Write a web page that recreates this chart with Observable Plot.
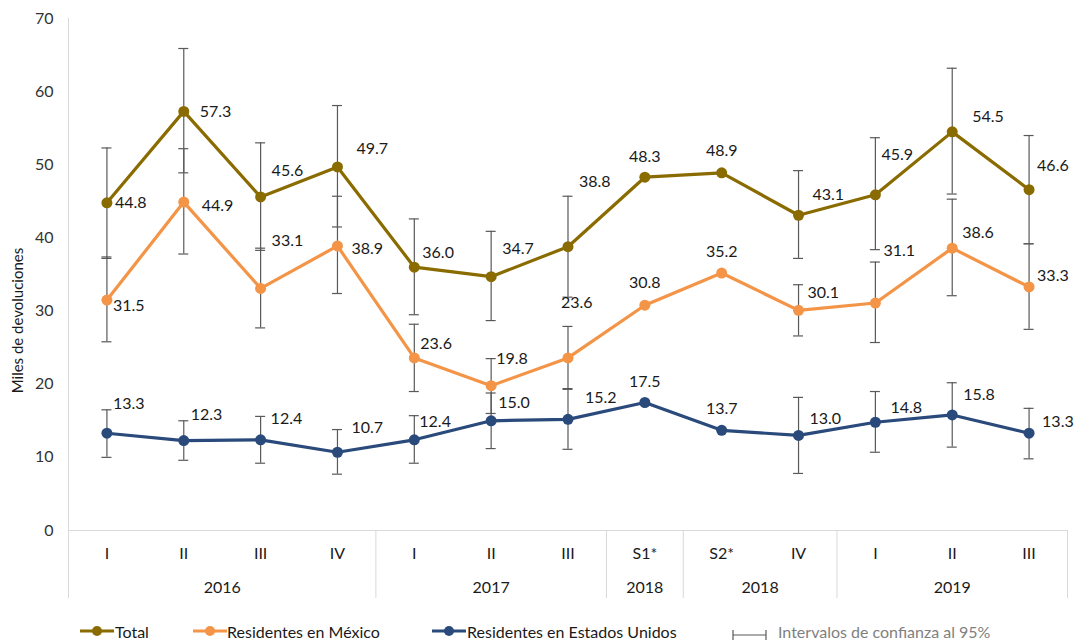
<!DOCTYPE html>
<html><head><meta charset="utf-8">
<script src="https://cdn.jsdelivr.net/npm/d3@7"></script>
<script src="https://cdn.jsdelivr.net/npm/@observablehq/plot@0.6"></script>
<style>
body{margin:0;background:#fff;font-family:Lato,"Open Sans",sans-serif;}
#wrap{position:relative;width:1075px;height:640px;overflow:hidden;}
#legend{position:absolute;left:0;top:620px;width:1075px;height:22px;font-size:16px;color:#1a1a1a;}
.item{position:absolute;top:0;height:22px;display:flex;align-items:center;white-space:nowrap;}
.sw{position:absolute;top:0;}
</style></head>
<body><div id="wrap"><div id="chart"></div><div id="legend"></div></div>
<script>
// ---- data ----
const quarters = ["I","II","III","IV","I","II","III","S1*","S2*","IV","I","II","III"];
const yearLabels = ["2016","2017","2018","2018","2019"];
const yearSpans = [4,3,1,2,3];
const yTicks = [0,10,20,30,40,50,60,70];

const total  = [44.8,57.3,45.6,49.7,36.0,34.7,38.8,48.3,48.9,43.1,45.9,54.5,46.6];
const mexico = [31.5,44.9,33.1,38.9,23.6,19.8,23.6,30.8,35.2,30.1,31.1,38.6,33.3];
const us     = [13.3,12.3,12.4,10.7,12.4,15.0,15.2,17.5,13.7,13.0,14.8,15.8,13.3];

const totalLow   = [37.2,48.9,38.3,41.5,29.5,28.7,31.9,null,null,37.2,38.4,46.0,39.2];
const totalHigh  = [52.3,65.9,53.0,58.1,42.6,40.9,45.7,null,null,49.2,53.7,63.2,54.0];
const mexicoLow  = [25.8,37.8,27.7,32.4,19.0,16.0,19.4,null,null,26.6,25.7,32.1,27.5];
const mexicoHigh = [37.4,52.2,38.6,45.7,28.2,23.5,27.9,null,null,33.6,36.7,45.3,39.2];
const usLow      = [10.0,9.6,9.2,7.7,9.2,11.2,11.1,null,null,7.8,10.7,11.4,9.8];
const usHigh     = [16.5,15.0,15.6,13.8,15.7,18.8,19.3,null,null,18.2,19.0,20.2,16.7];

const seriesNames = ["Total","Residentes en México","Residentes en Estados Unidos"];
const ciLabel = "Intervalos de confianza al 95%";
const yTitle = "Miles de devoluciones";

// ---- styling / label placement (pixel offsets from each point) ----
const colors = ["#8a6b00","#f39447","#2a4a7b"];
const labelOffsets = [
  [[8,0],[16,0],[11,-26],[19,-18],[8,-14],[11,-28],[11,-65],[0,-20,"m"],[0,-22,"m"],[14,-20],[6,-40],[20,-15],[8,-24]],
  [[6,6],[18,4],[11,-48],[14,3],[6,-14],[5,-27],[-7,-55],[0,-22,"m"],[0,-21,"m"],[9,-17],[8,-52],[10,-15],[8,-11]],
  [[6,-29],[7,-26],[10,-21],[14,-24],[5,-18],[7,-18],[17,-21],[0,-21,"m"],[0,-21,"m"],[11,-17],[15,-14],[11,-20],[13,-11]]
];
const FS = 16;

const rows = quarters.map((q,i)=>({i, x:i+0.5, q, base:0,
  v:[total[i],mexico[i],us[i]],
  lo:[totalLow[i],mexicoLow[i],usLow[i]],
  hi:[totalHigh[i],mexicoHigh[i],usHigh[i]]}));

let acc = 0;
const yearRows = yearLabels.map((label,k)=>{const s=acc; acc+=yearSpans[k]; return {label, center:(s+acc)/2, end:acc};});
const bounds = [{b:0,base:0}, ...yearRows.map(d=>({b:d.end, base:0}))];

const marks = [];
const gridColor = "#d9d9d9";
marks.push(Plot.ruleY([0], {stroke:gridColor, strokeWidth:1}));
marks.push(Plot.ruleX([0], {stroke:gridColor, strokeWidth:1}));
marks.push(Plot.ruleX(bounds, {x:"b", y1:"base", y2:"base", insetBottom:-68, stroke:gridColor, strokeWidth:1}));

// error bars
for (let s=0;s<3;s++){
  const d = rows.filter(r=>r.lo[s]!=null);
  const ebar = {stroke:"#595959", strokeWidth:1.2};
  marks.push(Plot.ruleX(d, {x:"x", y1:r=>r.lo[s], y2:r=>r.hi[s], ...ebar}));
  marks.push(Plot.ruleY(d, {y:r=>r.lo[s], x1:"x", x2:"x", insetLeft:-5, insetRight:-5, ...ebar}));
  marks.push(Plot.ruleY(d, {y:r=>r.hi[s], x1:"x", x2:"x", insetLeft:-5, insetRight:-5, ...ebar}));
}
// lines & dots
for (let s=0;s<3;s++){
  marks.push(Plot.line(rows, {x:"x", y:r=>r.v[s], stroke:colors[s], strokeWidth:3.2}));
  marks.push(Plot.dot(rows, {x:"x", y:r=>r.v[s], r:5.5, fill:colors[s], stroke:"none"}));
}
// data labels
for (let s=0;s<3;s++){
  rows.forEach((r,i)=>{
    const o = labelOffsets[s][i];
    marks.push(Plot.text([r], {x:"x", y:d=>d.v[s], text:d=>d.v[s].toFixed(1),
      dx:o[0], dy:o[1], textAnchor:o[2]==="m"?"middle":"start", lineAnchor:"middle", fill:"#1a1a1a", fontSize:FS}));
  });
}
// category axis
marks.push(Plot.text(rows, {x:"x", text:"q", frameAnchor:"bottom", lineAnchor:"middle", textAnchor:"middle", dy:23, fill:"#1a1a1a", fontSize:FS}));
marks.push(Plot.text(yearRows, {x:"center", text:"label", frameAnchor:"bottom", lineAnchor:"middle", textAnchor:"middle", dy:57, fill:"#1a1a1a", fontSize:FS}));
// y title
marks.push(Plot.text([yTitle], {frameAnchor:"left", rotate:-90, textAnchor:"middle", lineAnchor:"middle", dx:-50, dy:46, fill:"#1a1a1a", fontSize:15}));

const chart = Plot.plot({
  width:1075, height:612,
  marginLeft:68, marginRight:8, marginTop:18, marginBottom:82,
  x:{domain:[0,13], axis:null},
  y:{domain:[0,70], ticks:yTicks, tickSize:0, tickPadding:15, label:null, tickFormat:d=>String(d)},
  style:{fontSize:"16px", fontFamily:"Lato, 'Open Sans', sans-serif", color:"#333", background:"white"},
  marks
});
document.getElementById("chart").appendChild(chart);

// legend
const legend = document.getElementById("legend");
const swatchPos = [80,193,432];
const textPos = [115,227,467];
seriesNames.forEach((n,s)=>{
  const sv = document.createElementNS("http://www.w3.org/2000/svg","svg");
  sv.setAttribute("width",34); sv.setAttribute("height",22); sv.setAttribute("class","sw");
  sv.style.left = swatchPos[s]+"px";
  sv.innerHTML = `<line x1="0" x2="34" y1="11" y2="11" stroke="${colors[s]}" stroke-width="3.2"/><circle cx="17" cy="11" r="5" fill="${colors[s]}"/>`;
  legend.appendChild(sv);
  const t = document.createElement("div"); t.className="item"; t.style.left=textPos[s]+"px"; t.textContent=n;
  legend.appendChild(t);
});
const ci = document.createElementNS("http://www.w3.org/2000/svg","svg");
ci.setAttribute("width",36); ci.setAttribute("height",22); ci.setAttribute("class","sw");
ci.style.left="732px";
ci.innerHTML = `<line x1="1" x2="34" y1="15" y2="15" stroke="#595959" stroke-width="1.2"/><line x1="1" x2="1" y1="10" y2="20" stroke="#595959" stroke-width="1.2"/><line x1="34" x2="34" y1="10" y2="20" stroke="#595959" stroke-width="1.2"/>`;
legend.appendChild(ci);
const ct = document.createElement("div"); ct.className="item"; ct.style.left="778px"; ct.style.color="#7f7f7f"; ct.textContent=ciLabel;
legend.appendChild(ct);
</script>
</body></html>
